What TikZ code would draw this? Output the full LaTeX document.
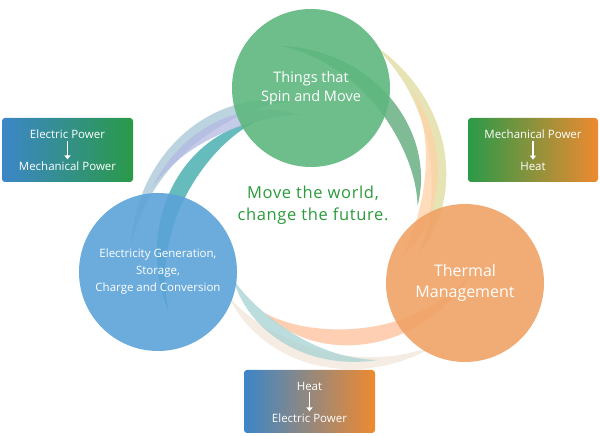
\documentclass[tikz,border=0pt]{standalone}
\usepackage{fontspec}
\setmainfont{Open Sans}
\usetikzlibrary{arrows.meta}
\definecolor{gcirc}{HTML}{5DB77E}
\definecolor{bcirc}{HTML}{5BA3D8}
\definecolor{ocirc}{HTML}{F0A266}
\definecolor{bgrad}{HTML}{3C86C8}
\definecolor{ggrad}{HTML}{2A9A48}
\definecolor{ograd}{HTML}{EE8A30}
\definecolor{motto}{HTML}{2A9A3A}
% tapered spiral blade: colour, start angle, start radius, end angle, end radius, width
\newcommand{\Blade}[6]{%
  \pgfmathsetmacro{\bA}{#2}\pgfmathsetmacro{\bR}{#3}%
  \pgfmathsetmacro{\bS}{#4-#2}\pgfmathsetmacro{\bD}{#5-#3}%
  \fill[#1,opacity=.75,shift={(C)}]
    plot[variable=\t,domain=0:1,samples=40] ({\bA+\bS*\t}:{\bR+\bD*\t})
    -- plot[variable=\t,domain=1:0,samples=40]
       ({\bA+\bS*\t}:{\bR+\bD*\t-#6*sin(180*\t)})
    -- cycle;
}
\tikzset{
  circ/.style={circle,minimum size=158pt,inner sep=0pt,text=white,align=center,opacity=.9,text opacity=1},
  conv/.style={rounded corners=3pt},
  convtext/.style={text=white,font=\fontsize{11.5}{14}\selectfont,inner sep=0pt},
  down/.style={white,line width=1.6pt,-{Triangle[length=4pt,width=6pt]}}
}
\begin{document}
\begin{tikzpicture}[x=1pt,y=1pt]
\useasboundingbox (0,0) rectangle (600,436);
\coordinate (C) at (310,221);

% blades, blue to green
\Blade{teal!50!cyan!60!gray}{215}{172}{120}{108}{17}
\Blade{cyan!40!gray!60}{190}{182}{100}{115}{16}
\Blade{cyan!30!blue!30}{170}{160}{95}{100}{14}
% blades, green to orange
\Blade{gcirc!90!black}{100}{172}{5}{108}{17}
\Blade{olive!30}{70}{182}{-20}{115}{16}
\Blade{orange!35}{50}{160}{-25}{100}{14}
% blades, orange to blue
\Blade{red!25!orange!40}{-20}{172}{-115}{108}{17}
\Blade{brown!20}{-45}{182}{-135}{115}{16}
\Blade{teal!35}{-65}{160}{-140}{100}{14}

% circles
\node[circ,fill=gcirc,font=\fontsize{14.5}{19}\selectfont] (spin) at (311,348) {Things that\\Spin and Move};
\node[circ,fill=bcirc,font=\fontsize{11.5}{17}\selectfont] (elec) at (158,164) {Electricity Generation,\\Storage,\\Charge and Conversion};
\node[circ,fill=ocirc,font=\fontsize{16}{21}\selectfont] (therm) at (465,153) {Thermal\\Management};

\node[text=motto,align=center,font=\fontsize{16.5}{22}\selectfont\addfontfeature{LetterSpace=4}] (motto) at (313,231) {Move the world,\\change the future.};

% conversion boxes
\shade[conv,left color=bgrad,right color=ggrad] (2,254) rectangle (133,318);
\node[convtext] (ep) at (67.5,302) {Electric Power};
\node[convtext] (mp) at (67.5,270) {Mechanical Power};

\shade[conv,left color=ggrad,right color=ograd] (468,254) rectangle (598,318);
\node[convtext] (mp2) at (533,302) {Mechanical Power};
\node[convtext] (ht) at (533,270) {Heat};

\shade[conv,left color=bgrad,right color=ograd] (244,3) rectangle (375,66);
\node[convtext] (ht2) at (309.5,50) {Heat};
\node[convtext] (ep2) at (309.5,18) {Electric Power};

\foreach \a/\b in {ep/mp,mp2/ht,ht2/ep2}
  \draw[down] ([yshift=-2pt]\a.south) -- ([yshift=2pt]\b.north);
\end{tikzpicture}
\end{document}
